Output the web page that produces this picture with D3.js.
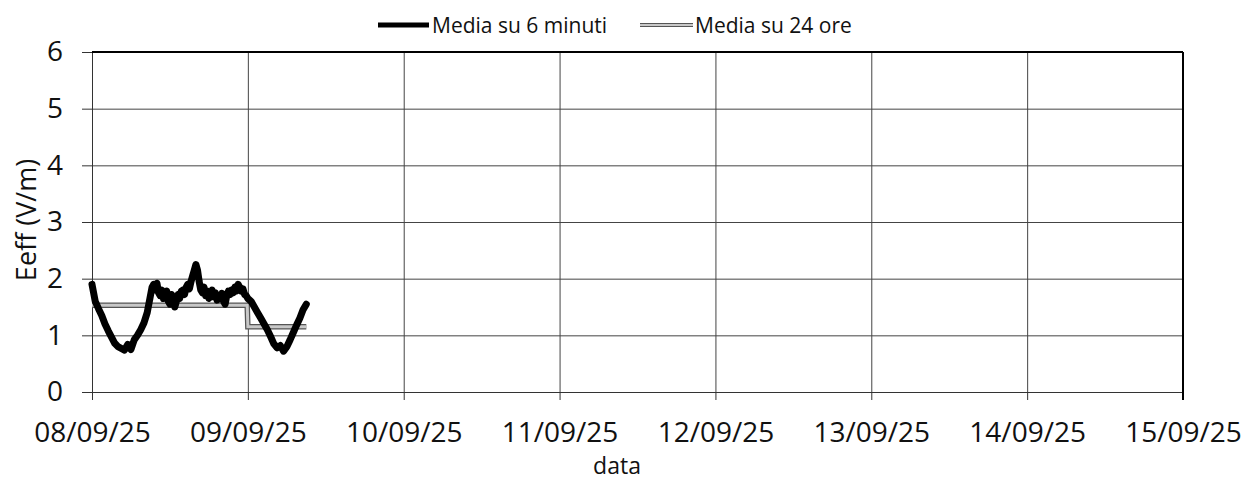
<!DOCTYPE html>
<html>
<head>
<meta charset="utf-8">
<script src="https://cdn.jsdelivr.net/npm/d3@7"></script>
<style>
  html, body { margin: 0; padding: 0; background: #fff; }
  svg { display: block; font-family: "Open Sans", sans-serif; }
</style>
</head>
<body>
<svg id="chart" width="1243" height="480"></svg>
<script>
// ---- data ----
const startDate = new Date(2025, 8, 8, 0, 0, 0);
const endDate = new Date(2025, 8, 15, 0, 0, 0);
const seriesNames = ["Media su 6 minuti", "Media su 24 ore"];
// 6-minute average (hours offset from 08/09/25 00:00)
const hours6 = [0,0.5,1,1.5,2,2.5,3,3.5,4,4.5,5,5.5,6,6.5,7,7.5,8,8.5,
  9,9.25,9.5,9.75,10,10.25,10.5,10.75,11,11.25,11.5,11.75,12,12.25,12.5,12.75,13,13.25,13.5,13.75,
  14,14.25,14.5,14.75,15,15.25,15.5,15.75,16,16.25,16.5,16.75,17,17.25,17.5,17.75,18,18.25,18.5,18.75,
  19,19.25,19.5,19.75,20,20.25,20.5,20.75,21,21.25,21.5,21.75,22,22.25,22.5,22.75,23,23.25,23.5,23.75,
  24,24.5,25,25.5,26,26.5,27,27.5,28,28.5,29,29.5,30,30.5,31,31.5,32,32.5,33];
const values6 = [1.9,1.6,1.47,1.35,1.2,1.08,0.97,0.86,0.8,0.77,0.74,0.84,0.75,0.92,1.0,1.1,1.22,1.4,
  1.7,1.85,1.9,1.8,1.92,1.75,1.7,1.8,1.65,1.75,1.78,1.6,1.55,1.72,1.68,1.5,1.6,1.72,1.65,1.78,
  1.8,1.72,1.85,1.9,1.82,1.95,2.05,2.15,2.25,2.15,1.95,1.8,1.75,1.85,1.7,1.78,1.65,1.72,1.8,1.68,
  1.75,1.62,1.7,1.66,1.74,1.6,1.55,1.7,1.78,1.72,1.8,1.75,1.85,1.78,1.9,1.85,1.78,1.82,1.72,1.7,
  1.65,1.6,1.5,1.4,1.3,1.2,1.1,0.98,0.85,0.78,0.82,0.72,0.8,0.92,1.05,1.18,1.3,1.45,1.55];
// 24-hour average (hours offset)
const hours24 = [0, 23.9, 24, 33];
const values24 = [1.53, 1.53, 1.15, 1.15];
const yTicks = [0,1,2,3,4,5,6];
const xTickDays = [0,1,2,3,4,5,6,7];
const yTitle = "Eeff (V/m)";
const xTitle = "data";

// ---- layout ----
const svg = d3.select("#chart");
const mLeft = 92, mRight = 1183, mTop = 52, mBottom = 392;
const x = d3.scaleTime().domain([startDate, endDate]).range([mLeft, mRight]);
const y = d3.scaleLinear().domain([0, 6]).range([mBottom, mTop]);
const toDate = h => new Date(startDate.getTime() + h * 3600e3);
const fmt = d3.timeFormat("%d/%m/%y");
const xTicks = xTickDays.map(d => toDate(d * 24));

// gridlines
svg.append("g")
  .attr("transform", `translate(${mLeft},0)`)
  .call(d3.axisLeft(y).tickValues(yTicks).tickSize(-(mRight - mLeft)).tickFormat(""))
  .call(g => g.select(".domain").remove())
  .call(g => g.selectAll("line").attr("stroke", "#444").attr("stroke-width", 1));
svg.append("g")
  .attr("transform", `translate(0,${mTop})`)
  .call(d3.axisBottom(x).tickValues(xTicks).tickSize(mBottom - mTop).tickFormat(""))
  .call(g => g.select(".domain").remove())
  .call(g => g.selectAll("line").attr("stroke", "#444").attr("stroke-width", 1));

// y axis
svg.append("g")
  .attr("transform", `translate(${mLeft},0)`)
  .call(d3.axisLeft(y).tickValues(yTicks).tickSize(10).tickPadding(19).tickFormat(d3.format("d")))
  .call(g => g.select(".domain").attr("stroke", "#333"))
  .call(g => g.selectAll("line").attr("stroke", "#333"))
  .call(g => g.selectAll("text").attr("font-size", 28).attr("fill", "#111").attr("font-family", "Open Sans"));

// x axis
svg.append("g")
  .attr("transform", `translate(0,${mBottom})`)
  .call(d3.axisBottom(x).tickValues(xTicks).tickSize(8).tickPadding(22).tickFormat(fmt))
  .call(g => g.select(".domain").attr("stroke", "#333"))
  .call(g => g.selectAll("line").attr("stroke", "#333"))
  .call(g => g.selectAll("text").attr("font-size", 28).attr("fill", "#111").attr("font-family", "Open Sans"));

// border top & right
svg.append("line").attr("x1", mLeft).attr("x2", mRight).attr("y1", mTop).attr("y2", mTop)
  .attr("stroke", "#000").attr("stroke-width", 2);
svg.append("line").attr("x1", mRight).attr("x2", mRight).attr("y1", mTop).attr("y2", mBottom + 8)
  .attr("stroke", "#000").attr("stroke-width", 2);

// series
const line = d3.line().x(d => x(d[0])).y(d => y(d[1]));
const data24 = hours24.map((h, i) => [toDate(h), values24[i]]);
const data6 = hours6.map((h, i) => [toDate(h), values6[i]]);
svg.append("path").datum(data24).attr("d", line)
  .attr("fill", "none").attr("stroke", "#555").attr("stroke-width", 5.5);
svg.append("path").datum(data24).attr("d", line)
  .attr("fill", "none").attr("stroke", "#c8c8c8").attr("stroke-width", 3);
svg.append("path").datum(data6).attr("d", line)
  .attr("fill", "none").attr("stroke", "#000").attr("stroke-width", 7)
  .attr("stroke-linejoin", "round").attr("stroke-linecap", "round");

// titles
svg.append("text").attr("transform", `translate(36,220) rotate(-90)`)
  .attr("text-anchor", "middle").attr("font-size", 27).attr("fill", "#111").text(yTitle);
svg.append("text").attr("x", 617).attr("y", 474)
  .attr("text-anchor", "middle").attr("font-size", 23).attr("fill", "#111").text(xTitle);

// legend
const legend = svg.append("g");
const leg = [
  { x1: 378, x2: 429, tx: 432, stroke: "#000", w: 5, inner: null },
  { x1: 640, x2: 693, tx: 695, stroke: "#555", w: 4, inner: "#c8c8c8" }
];
leg.forEach((l, i) => {
  legend.append("line").attr("x1", l.x1).attr("x2", l.x2).attr("y1", 25).attr("y2", 25)
    .attr("stroke", l.stroke).attr("stroke-width", l.w);
  if (l.inner) legend.append("line").attr("x1", l.x1).attr("x2", l.x2).attr("y1", 25).attr("y2", 25)
    .attr("stroke", l.inner).attr("stroke-width", 2);
  legend.append("text").attr("x", l.tx).attr("y", 33).attr("font-size", 21).attr("fill", "#111")
    .text(seriesNames[i]);
});
</script>
</body>
</html>
